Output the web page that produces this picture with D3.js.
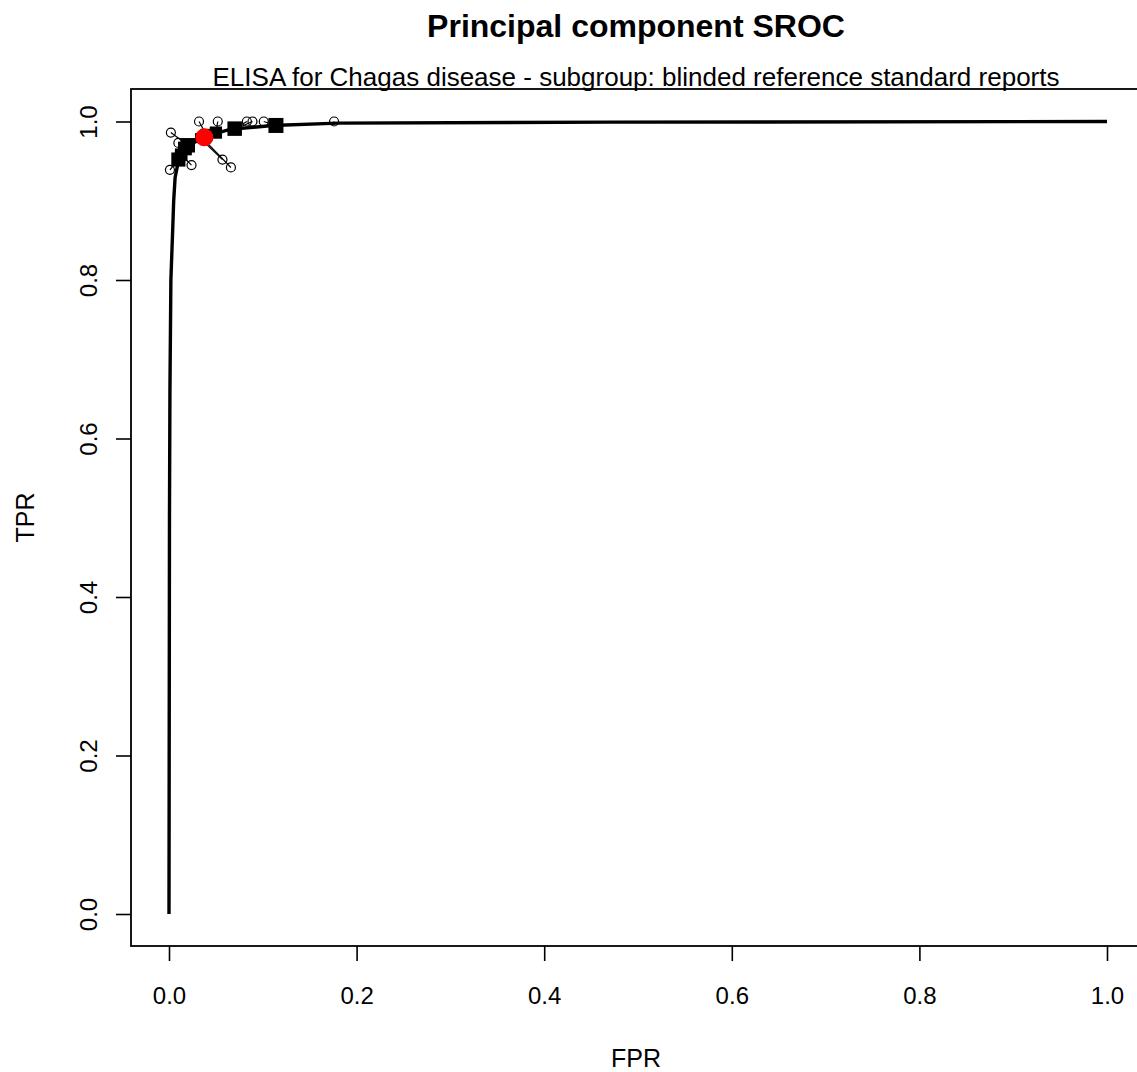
<!DOCTYPE html>
<html>
<head>
<meta charset="utf-8">
<script src="https://cdn.jsdelivr.net/npm/d3@7"></script>
<style>
  body { margin: 0; background: #fff; }
  svg { display: block; font-family: "Liberation Sans", Arial, sans-serif; }
</style>
</head>
<body>
<div id="chart"></div>
<script>
// summary ROC curve
const curveFpr = [0, 0.0005, 0.001, 0.002, 0.004, 0.005, 0.0065, 0.01, 0.02, 0.035, 0.065, 0.11, 0.18, 0.47, 1.0]
const curveTpr = [0, 0.5, 0.66, 0.80, 0.866, 0.90, 0.929, 0.95, 0.968, 0.98, 0.99, 0.995, 0.998, 0.9992, 1.0]

// primary studies (open circles)
const studyFpr = [0.002, 0.010, 0.001, 0.024, 0.032, 0.052, 0.083, 0.089, 0.101, 0.176, 0.057, 0.066]
const studyTpr = [0.986, 0.973, 0.939, 0.945, 1.0, 1.0, 1.0, 1.0, 1.0, 1.0, 0.952, 0.942]

// projections of the studies on the curve (filled squares) and study weights
const projFpr = [0.020, 0.017, 0.010, 0.013, 0.040, 0.050, 0.070, 0.072, 0.114, 0.175, 0.033, 0.035]
const projTpr = [0.970, 0.966, 0.952, 0.958, 0.983, 0.986, 0.991, 0.991, 0.995, 0.997, 0.979, 0.980]
const studyWeight = [420, 380, 400, 320, 300, 300, 420, 200, 450, 15, 200, 200]

// summary point
const summaryFpr = 0.0377
const summaryTpr = 0.980

const xTicks = [0, 0.2, 0.4, 0.6, 0.8, 1.0]
const yTicks = [0, 0.2, 0.4, 0.6, 0.8, 1.0]

const title = 'Principal component SROC'
const subtitle = 'ELISA for Chagas disease - subgroup: blinded reference standard reports'

const width = 1137, height = 1072
const box = {left: 131, top: 89, right: 1141, bottom: 946}

const svg = d3.select('#chart').append('svg')
    .attr('width', width)
    .attr('height', height)

const x = d3.scaleLinear().domain([0, 1]).range([169, 1107])
const y = d3.scaleLinear().domain([0, 1]).range([914, 121.5])
const size = d3.scaleSqrt().domain([0, d3.max(studyWeight)]).range([0, 15])

// frame
svg.append('rect')
    .attr('x', box.left)
    .attr('y', box.top)
    .attr('width', box.right - box.left)
    .attr('height', box.bottom - box.top)
    .attr('fill', 'none')
    .attr('stroke', '#000')
    .attr('stroke-width', 1.8)

// axes
const xAxis = d3.axisBottom(x).tickValues(xTicks).tickFormat(d3.format('.1f'))
    .tickSize(15).tickPadding(26)
const yAxis = d3.axisLeft(y).tickValues(yTicks).tickFormat(d3.format('.1f'))
    .tickSize(15)

const gx = svg.append('g')
    .attr('transform', `translate(0, ${box.bottom})`)
    .call(xAxis)
gx.select('.domain').remove()
gx.selectAll('line').attr('stroke-width', 1.6)
gx.selectAll('text').style('font-size', '24px').attr('fill', '#000')

const gy = svg.append('g')
    .attr('transform', `translate(${box.left}, 0)`)
    .call(yAxis)
gy.select('.domain').remove()
gy.selectAll('line').attr('stroke-width', 1.6)
gy.selectAll('text')
    .style('font-size', '24px')
    .attr('fill', '#000')
    .attr('text-anchor', 'middle')
    .attr('x', 0)
    .attr('y', 0)
    .attr('dy', 0)
    .attr('transform', 'translate(-34, 0) rotate(-90)')

// titles
svg.append('text')
    .text(title)
    .attr('x', (box.left + box.right) / 2)
    .attr('y', 37)
    .attr('text-anchor', 'middle')
    .style('font-size', '32px')
    .style('font-weight', 'bold')

svg.append('text')
    .text(subtitle)
    .attr('x', (box.left + box.right) / 2)
    .attr('y', 86)
    .attr('text-anchor', 'middle')
    .style('font-size', '26px')

svg.append('text')
    .text('FPR')
    .attr('x', (box.left + box.right) / 2)
    .attr('y', 1067)
    .attr('text-anchor', 'middle')
    .style('font-size', '25px')

svg.append('text')
    .text('TPR')
    .attr('transform', `translate(34, ${(box.top + box.bottom) / 2}) rotate(-90)`)
    .attr('text-anchor', 'middle')
    .style('font-size', '25px')

const plot = svg.append('g')

// curve
const curve = curveFpr.map((f, i) => [f, curveTpr[i]])
plot.append('path')
    .datum(curve)
    .attr('d', d3.line().x(d => x(d[0])).y(d => y(d[1])))
    .attr('fill', 'none')
    .attr('stroke', '#000')
    .attr('stroke-width', 3.4)

const studies = studyFpr.map((f, i) => ({
    fpr: f, tpr: studyTpr[i], pf: projFpr[i], pt: projTpr[i], w: studyWeight[i]
}))

// connectors
plot.selectAll('line.link')
    .data(studies)
    .enter()
    .append('line')
    .attr('class', 'link')
    .attr('x1', d => x(d.fpr))
    .attr('y1', d => y(d.tpr))
    .attr('x2', d => x(d.pf))
    .attr('y2', d => y(d.pt))
    .attr('stroke', '#000')
    .attr('stroke-width', 1.2)

// projections
plot.selectAll('rect.proj')
    .data(studies)
    .enter()
    .append('rect')
    .attr('class', 'proj')
    .attr('x', d => x(d.pf) - size(d.w) / 2)
    .attr('y', d => y(d.pt) - size(d.w) / 2)
    .attr('width', d => size(d.w))
    .attr('height', d => size(d.w))
    .attr('fill', '#000')

// studies
plot.selectAll('circle.study')
    .data(studies)
    .enter()
    .append('circle')
    .attr('class', 'study')
    .attr('cx', d => x(d.fpr))
    .attr('cy', d => y(d.tpr))
    .attr('r', 4.5)
    .attr('fill', 'none')
    .attr('stroke', '#000')
    .attr('stroke-width', 1.2)

// summary point
plot.append('circle')
    .attr('cx', x(summaryFpr))
    .attr('cy', y(summaryTpr))
    .attr('r', 9)
    .attr('fill', '#ff0000')
</script>
</body>
</html>
